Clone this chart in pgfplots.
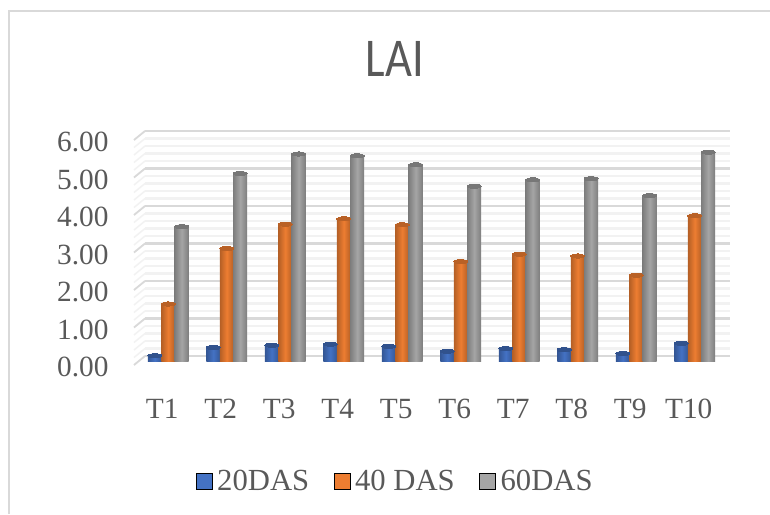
\documentclass[border=0pt]{standalone}
\usepackage{pgfplots}
\pgfplotsset{compat=1.18}
\usepackage{fontspec}
\setmainfont{Liberation Serif}
\newfontfamily\titlefont{Carlito}
\definecolor{txt}{HTML}{595959}
\definecolor{cblue}{HTML}{4472C4}
\definecolor{corange}{HTML}{ED7D31}
\definecolor{cgray}{HTML}{A5A5A5}
\definecolor{gmajor}{HTML}{D9D9D9}
\definecolor{gminor}{HTML}{F2F2F2}
% one pixel of the reference is 0.75pt
\pgfplotsset{
  plainaxis/.style={
    scale only axis, width=438.75pt, height=168.75pt,
    xmin=-0.5, xmax=9.5, ymin=0, ymax=6,
    axis line style={draw=none},
    anchor=south west,
  },
  cyl/.style n args={2}{ybar, draw=none, bar width=10.5pt, bar shift=#1, forget plot,
    shade, shading=axis, left color=#2!76!black, right color=#2!76!black, middle color=#2},
  cap/.style 2 args={only marks, mark=*, forget plot,
    mark options={draw=#1, fill=#1, line width=0pt, xscale=1, yscale=0.3},
    mark size=5.2pt, xshift=#2},
}
\pgfplotstableread{
x  a    b    c
0  0.14 1.52 3.58
1  0.36 3.00 5.00
2  0.42 3.65 5.52
3  0.45 3.79 5.47
4  0.39 3.63 5.23
5  0.26 2.65 4.66
6  0.33 2.85 4.83
7  0.30 2.80 4.86
8  0.20 2.29 4.41
9  0.47 3.87 5.57
}\lai
\begin{document}
\begin{tikzpicture}
\path[use as bounding box] (0,0) rectangle (577.5pt,385.5pt);
\fill[white] (0,0) rectangle (577.5pt,385.5pt);
\draw[gmajor, line width=1.5pt] (6.75pt,0pt) -- (6.75pt,377.25pt) -- (577.5pt,377.25pt);
\node[text=txt, anchor=base, inner sep=0pt, xscale=0.85, font=\titlefont\fontsize{41}{41}\selectfont] at (296pt,328pt) {LAI};
% back wall
\begin{axis}[plainaxis, at={(108.75pt,118.5pt)}, clip=false,
  xtick=\empty, ytick=\empty]
  \pgfplotsinvokeforeach{0,0.2,...,5.9}{
    \addplot[gminor, line width=1.6pt, forget plot] coordinates {(-0.5,#1) (9.5,#1)};
    \draw[gminor, line width=1.1pt] (axis cs:-0.5,#1) -- ++(-8.25pt,-6.75pt);
  }
  \pgfplotsinvokeforeach{0,1,...,6}{
    \addplot[gmajor, line width=1.9pt, forget plot] coordinates {(-0.5,#1) (9.5,#1)};
    \draw[gmajor, line width=1.3pt] (axis cs:-0.5,#1) -- ++(-8.25pt,-6.75pt);
  }
\end{axis}
% bars
\begin{axis}[plainaxis, at={(104.25pt,114.75pt)}, clip=false,
  xtick={0,...,9},
  xticklabels={T1,T2,T3,T4,T5,T6,T7,T8,T9,T10},
  ytick={0,1,...,6},
  yticklabel={\pgfmathprintnumber[fixed,fixed zerofill,precision=2]{\tick}},
  /pgf/number format/assume math mode=true,
  major tick length=0pt,
  yticklabel style={text=txt, anchor=east, font=\fontsize{22}{22}\selectfont, yshift=-4.5pt, xshift=-19.3pt},
  xticklabel style={text=txt, font=\fontsize{22}{22}\selectfont, yshift=-25pt, xshift=-4.5pt},
  legend style={at={(0,0)}, anchor=center, xshift=192.5pt, yshift=-90.4pt, draw=none, fill=none,
    legend columns=3, font=\fontsize{23}{23}\selectfont, text=txt,
    /tikz/every even column/.append style={column sep=16.5pt},
    /tikz/every odd column/.append style={column sep=1.5pt},
    inner sep=0pt},
  legend cell align=left,
  legend image code/.code={\fill[#1] (0pt,-6pt) rectangle (12pt,6pt);},
]
  % legend entries
  \addlegendimage{fill=cblue}
  \addlegendentry{20DAS}
  \addlegendimage{fill=corange}
  \addlegendentry{40 DAS}
  \addlegendimage{fill=cgray}
  \addlegendentry{60DAS}
  % series, one plot per bar so each bar gets its own shading
  \pgfplotsinvokeforeach{0,...,9}{
    \addplot[cyl={-10.1pt}{cblue}, restrict x to domain=#1:#1] table[x=x,y=a] {\lai};
    \addplot[cyl={0pt}{corange}, restrict x to domain=#1:#1] table[x=x,y=b] {\lai};
    \addplot[cyl={10.1pt}{cgray}, restrict x to domain=#1:#1] table[x=x,y=c] {\lai};
  }
  \addplot[cap={cblue!72!black}{-10.1pt}] table[x=x,y=a] {\lai};
  \addplot[cap={corange!78!black}{0pt}] table[x=x,y=b] {\lai};
  \addplot[cap={cgray!72!black}{10.1pt}] table[x=x,y=c] {\lai};
\end{axis}
\end{tikzpicture}
\end{document}
